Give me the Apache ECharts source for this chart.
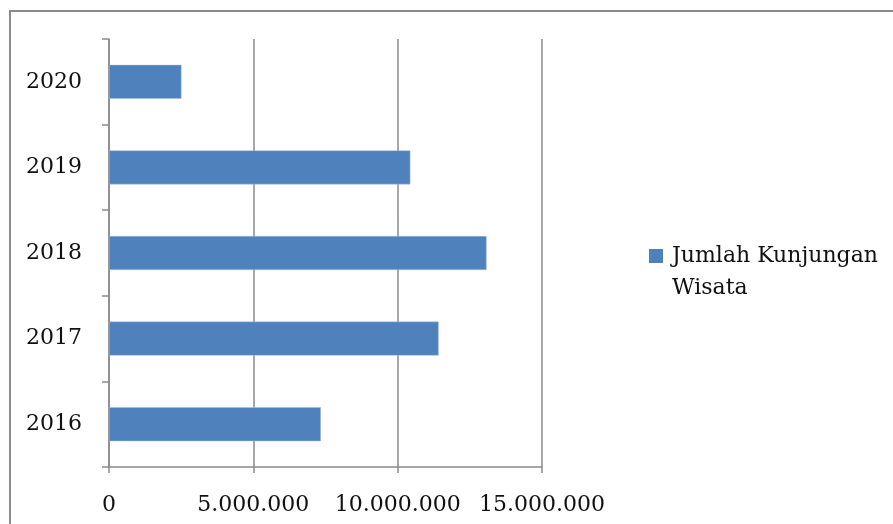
<!DOCTYPE html>
<html><head><meta charset="utf-8">
<script src="https://cdn.jsdelivr.net/npm/echarts@6/dist/echarts.min.js"></script>
<style>
html,body{margin:0;padding:0;background:#fff;overflow:hidden}
#frame{position:absolute;left:9px;top:10px;width:1000px;height:600px;border:2px solid #8a8a8a;box-sizing:border-box}
#c{position:absolute;left:0;top:0;width:893px;height:524px}
</style></head>
<body>
<div id="frame"></div>
<div id="c"></div>
<script>
const categories = ['2016', '2017', '2018', '2019', '2020'];
const seriesName = 'Jumlah Kunjungan Wisata';
const values = [7340000, 11420000, 13080000, 10440000, 2510000];
const xTicks = [0, 5000000, 10000000, 15000000];

const fmt = v => String(v).replace(/\B(?=(\d{3})+(?!\d))/g, '.');
const font = '"DejaVu Serif", "Liberation Serif", serif';
const gray = '#8a8a8a';
const xMax = xTicks[xTicks.length - 1];

const chart = echarts.init(document.getElementById('c'), null, {renderer: 'canvas'});
chart.setOption({
  animation: false,
  backgroundColor: 'transparent',
  grid: {left: 109, top: 39, width: 433, height: 428, containLabel: false},
  legend: {
    orient: 'vertical', left: 649, top: 208, padding: 0,
    itemWidth: 14, itemHeight: 14, icon: 'rect',
    itemStyle: {borderWidth: 0},
    formatter: n => '\n' + n.split(' Wisata').map((s, i) => '{t|' + (i ? 'Wisata' : s) + '}').join('\n'),
    textStyle: {
      fontFamily: font, fontSize: 22, color: '#111', lineHeight: 32,
      rich: {t: {fontFamily: font, fontSize: 22, color: '#111', lineHeight: 32, padding: [0, 0, 0, 4]}}
    }
  },
  xAxis: {
    type: 'value', min: xTicks[0], max: xMax, interval: xTicks[1] - xTicks[0],
    axisLine: {show: true, lineStyle: {color: gray, width: 1.5}},
    axisTick: {show: true, inside: false, length: 6, lineStyle: {color: gray, width: 1.5}},
    splitLine: {show: true, lineStyle: {color: gray, width: 1.5}},
    axisLabel: {formatter: fmt, fontFamily: font, fontSize: 22, color: '#111', margin: 27}
  },
  yAxis: {
    type: 'category', data: categories,
    axisLine: {show: true, lineStyle: {color: gray, width: 1.5}},
    axisTick: {show: true, inside: false, length: 7, alignWithLabel: false, lineStyle: {color: gray, width: 1.5}},
    splitLine: {show: false},
    axisLabel: {fontFamily: font, fontSize: 22, color: '#111', margin: 27}
  },
  series: [{
    name: seriesName, type: 'bar', data: values, barWidth: 34,
    itemStyle: {color: '#4F81BD', borderColor: '#a9c0e0', borderWidth: 0.5}
  }]
});
</script>
</body></html>
